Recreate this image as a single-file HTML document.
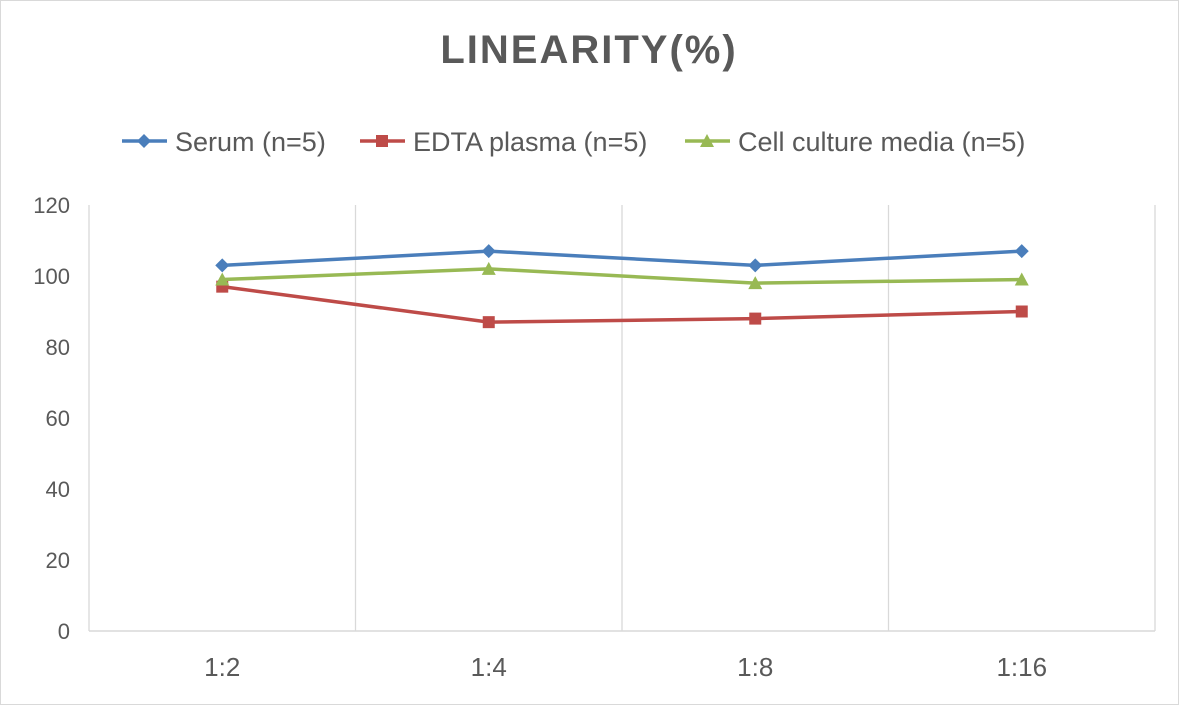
<!DOCTYPE html>
<html><head><meta charset="utf-8"><style>
html,body{margin:0;padding:0;background:#fff}
svg{display:block;font-family:"Liberation Sans",sans-serif}
</style></head><body>
<svg width="1179" height="705">
<rect x="0.5" y="0.5" width="1178" height="704" fill="#fff" stroke="#d9d9d9"/>
<text x="589" y="63" text-anchor="middle" font-size="40" font-weight="bold" fill="#595959" letter-spacing="2">LINEARITY(%)</text>
<g id="legend"></g>
<g id="grid"></g>
<g id="axes"></g>
<g id="series"></g>
</svg>
<script>
const categories=["1:2","1:4","1:8","1:16"];
const serum=[103,107,103,107];
const edta=[97,87,88,90];
const cell=[99,102,98,99];
const yTicks=[0,20,40,60,80,100,120];
const seriesNames=["Serum (n=5)","EDTA plasma (n=5)","Cell culture media (n=5)"];
const NS="http://www.w3.org/2000/svg";
const L=89,R=1155,T=205,B=631,yMax=120;
const band=(R-L)/categories.length;
const xS=i=>L+band*(i+0.5);
const yS=v=>B-(v/yMax)*(B-T);
function mk(tag,attrs,parent){const e=document.createElementNS(NS,tag);for(const k in attrs)e.setAttribute(k,attrs[k]);parent.appendChild(e);return e;}
const grid=document.getElementById('grid'),axes=document.getElementById('axes'),ser=document.getElementById('series'),leg=document.getElementById('legend');
for(let i=0;i<=categories.length;i++){
  const l=mk('line',{x1:L+band*i,x2:L+band*i,y1:T,y2:B,stroke:'#d9d9d9','stroke-width':1.3},grid);
  
  
}
const base=mk('line',{x1:L,x2:R,y1:B,y2:B,stroke:'#d9d9d9','stroke-width':1.5},axes);


yTicks.forEach(v=>{
  const t=mk('text',{x:70,y:yS(v)+8,'text-anchor':'end','font-size':22,fill:'#595959'},axes);
  t.textContent=v;
  
  
});
categories.forEach((c,i)=>{
  const t=mk('text',{x:xS(i),y:676,'text-anchor':'middle','font-size':26,fill:'#595959'},axes);
  t.textContent=c;
  
  
});
const colors=["#4a7ebb","#be4b48","#98b954"];
const shapes=["diamond","square","triangle"];
function marker(shape,x,y,col,parent){
  let e;
  if(shape==="diamond")e=mk('polygon',{points:`${x},${y-7} ${x+7},${y} ${x},${y+7} ${x-7},${y}`,fill:col},parent);
  else if(shape==="square")e=mk('rect',{x:x-6,y:y-6,width:12,height:12,fill:col},parent);
  else e=mk('polygon',{points:`${x},${y-7} ${x+7},${y+6} ${x-7},${y+6}`,fill:col},parent);
  return e;
}
[serum,edta,cell].forEach((data,s)=>{
  const g=mk('g',{},ser);
  
  
  const pl=mk('polyline',{points:data.map((v,i)=>xS(i)+','+yS(v)).join(' '),fill:'none',stroke:colors[s],'stroke-width':3.5},g);
  
  
  data.forEach((v,i)=>{
    const m=marker(shapes[s],xS(i),yS(v),colors[s],g);
    
    
  });
});
const legX=[122,360,685];
seriesNames.forEach((n,s)=>{
  const g=mk('g',{},leg);
  
  
  mk('line',{x1:legX[s],x2:legX[s]+45,y1:141,y2:141,stroke:colors[s],'stroke-width':3.5},g);
  marker(shapes[s],legX[s]+22,141,colors[s],g);
  const t=mk('text',{x:legX[s]+53,y:151,'font-size':27,fill:'#595959'},g);
  t.textContent=n;
});
</script>
</body></html>
